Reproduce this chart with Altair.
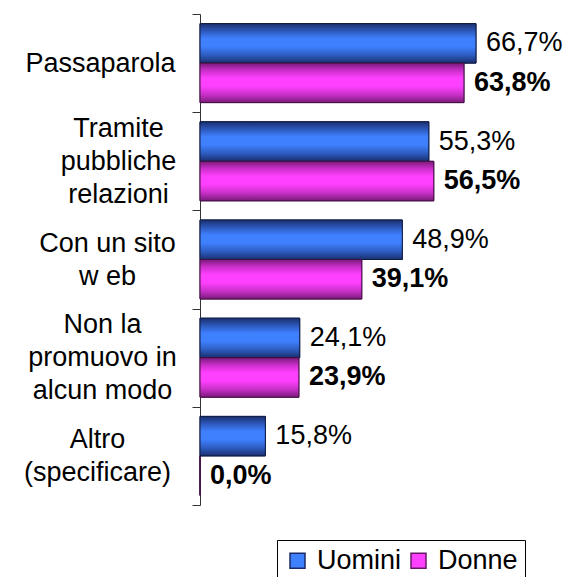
import altair as alt
import pandas as pd

categories = [
    "Passaparola",
    "Tramite|pubbliche|relazioni",
    "Con un sito|w eb",
    "Non la|promuovo in|alcun modo",
    "Altro|(specificare)",
]
groups = ["Uomini", "Donne"]
uomini = [66.7, 55.3, 48.9, 24.1, 15.8]
donne = [63.8, 56.5, 39.1, 23.9, 0.0]

rows = []
for c, u, d in zip(categories, uomini, donne):
    rows.append({"cat": c, "g": "Uomini", "v": u})
    rows.append({"cat": c, "g": "Donne", "v": d})
df = pd.DataFrame(rows)

FONT = "Liberation Sans"
LINE_H = 33

grad_u = {
    "gradient": "linear", "x1": 0, "y1": 0, "x2": 0, "y2": 1,
    "stops": [
        {"offset": 0.0, "color": "#1a2f6e"},
        {"offset": 0.18, "color": "#2c57b8"},
        {"offset": 0.38, "color": "#3f80ff"},
        {"offset": 0.58, "color": "#3f80ff"},
        {"offset": 0.8, "color": "#2d5cc0"},
        {"offset": 1.0, "color": "#1a2f6e"},
    ],
}
grad_d = {
    "gradient": "linear", "x1": 0, "y1": 0, "x2": 0, "y2": 1,
    "stops": [
        {"offset": 0.0, "color": "#7a1a7a"},
        {"offset": 0.18, "color": "#c82ec8"},
        {"offset": 0.38, "color": "#ff40ff"},
        {"offset": 0.58, "color": "#ff40ff"},
        {"offset": 0.8, "color": "#c830c8"},
        {"offset": 1.0, "color": "#7a1a7a"},
    ],
}

pad_cond = [
    {"test": "datum.value == 'Tramite|pubbliche|relazioni'", "value": 74},
    {"test": "datum.value == 'Con un sito|w eb'", "value": 85},
    {"test": "datum.value == 'Non la|promuovo in|alcun modo'", "value": 90},
    {"test": "datum.value == 'Altro|(specificare)'", "value": 95},
]
# shift multi-line label blocks up so they are centred on their band
off_cond = [
    {"test": "length(split(datum.value, '|')) == 3", "value": -LINE_H},
    {"test": "length(split(datum.value, '|')) == 2", "value": -LINE_H / 2},
]

base = alt.Chart(df).transform_calculate(
    lbl="replace(format(datum.v, '.1f'), '.', ',') + '%'"
).encode(
    y=alt.Y(
        "cat:N",
        sort=categories,
        scale=alt.Scale(domain=categories, paddingInner=0, paddingOuter=0),
        axis=alt.Axis(
            title=None,
            labelExpr="split(datum.label, '|')",
            labelFont=FONT,
            labelFontSize=27,
            labelColor="black",
            labelAlign="center",
            labelLineHeight=LINE_H,
            labelPadding={"condition": pad_cond, "value": 92},
            labelOffset={"condition": off_cond, "value": 0},
            labelLimit=400,
            labelOverlap=False,
            tickSize=8,
            tickBand="extent",
            tickColor="#333333",
            domainColor="#333333",
            grid=False,
        ),
    ),
    yOffset=alt.YOffset(
        "g:N",
        sort=groups,
        scale=alt.Scale(domain=groups, paddingInner=0, paddingOuter=0.243),
    ),
    x=alt.X("v:Q", scale=alt.Scale(domain=[0, 80]), axis=None),
)

legend = alt.Legend(
    title=None,
    orient="none",
    legendX=77,
    legendY=526,
    direction="horizontal",
    columns=2,
    symbolType="square",
    symbolSize=225,
    symbolStrokeWidth=1.5,
    symbolOpacity=1,
    labelFont=FONT,
    labelFontSize=27,
    labelColor="black",
    labelOffset=6,
    columnPadding=3,
    strokeColor="black",
    fillColor="white",
    padding=7,
)

bars_flat = base.mark_bar(strokeWidth=1).encode(
    fill=alt.Fill("g:N", scale=alt.Scale(domain=groups, range=["#3f80ff", "#ff40ff"]), legend=legend),
    stroke=alt.Stroke("g:N", scale=alt.Scale(domain=groups, range=["#1a2a66", "#661a66"]), legend=legend),
)

bars_grad = base.mark_bar(strokeWidth=1).encode(
    fill=alt.condition("datum.g == 'Uomini'", alt.value(grad_u), alt.value(grad_d)),
    stroke=alt.condition("datum.g == 'Uomini'", alt.value("#101c40"), alt.value("#401040")),
)

text_u = base.transform_filter("datum.g == 'Uomini'").mark_text(
    align="left", baseline="middle", dx=10, font=FONT, fontSize=27, color="black"
).encode(text="lbl:N")

text_d = base.transform_filter("datum.g == 'Donne'").mark_text(
    align="left", baseline="middle", dx=10, font=FONT, fontSize=27, fontWeight="bold", color="black"
).encode(text="lbl:N")

chart = alt.layer(bars_flat, bars_grad, text_u, text_d).properties(
    width=331,
    height=491,
    autosize=alt.AutoSizeParams(type="none"),
    padding={"left": 192, "top": 6, "right": 32, "bottom": 72},
).configure_view(stroke=None)

chart.save("out.html", embed_options={"renderer": "svg", "actions": False})
